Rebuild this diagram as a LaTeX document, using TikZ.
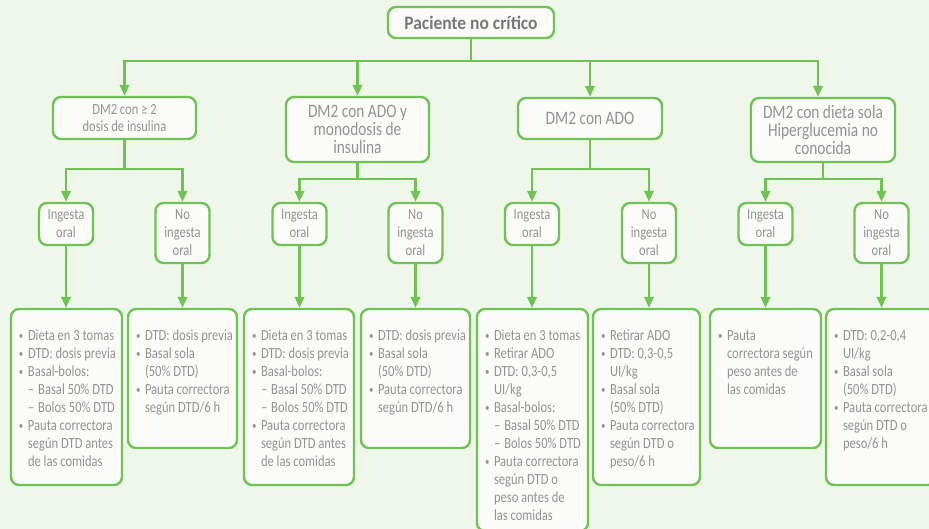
\documentclass[tikz,border=0pt]{standalone}
\usepackage{fontspec}
\setmainfont[FakeStretch=0.81]{Carlito}
\newfontfamily\headfont[FakeStretch=0.92]{Carlito}
\usetikzlibrary{arrows.meta}

\definecolor{bgtint}{HTML}{EEF7EA}
\definecolor{grn}{HTML}{72C157}
\definecolor{ink}{HTML}{939393}
\definecolor{headink}{HTML}{777777}
\definecolor{boxfill}{HTML}{FBFCFA}

% list helpers: bullet, continuation indent, dashed sub-item, first-line strut
\newcommand{\bu}{\makebox[10pt][l]{\hspace{1pt}\raisebox{0.8pt}{\fontsize{11}{11}\selectfont\textbullet}}}
\newcommand{\ct}{\hspace*{10pt}}
\newcommand{\subitm}{\hspace*{10pt}\textendash\hspace{4pt}}
\newcommand{\firstln}{\rule{0pt}{12pt}}

\tikzset{
  conn/.style={draw=grn, line width=2.2pt},
  arr/.style={conn, -{Triangle[length=11pt,width=9.5pt]}},
  box/.style={draw=grn, line width=2.4pt, fill=boxfill, rounded corners=8pt,
              inner sep=0pt, text=ink, align=center},
  head/.style={box, text=headink, font=\headfont\bfseries\fontsize{19}{22}\selectfont},
  cat/.style={box, font=\fontsize{19}{18}\selectfont},
  way/.style={box, minimum width=54pt, font=\fontsize{15.5}{18}\selectfont},
  list/.style={inner sep=0pt, align=left, text=ink, anchor=north west,
               font=\fontsize{15.5}{18}\selectfont},
}

\begin{document}
\begin{tikzpicture}[x=1pt, y=-1pt]
\useasboundingbox (0,0) rectangle (929,529);
\fill[bgtint] (0,0) rectangle (929,529);
\clip (0,0) rectangle (929,529);

% root
\node[head, minimum width=166pt, minimum height=31pt] (pt) at (471,22.5) {Paciente no crítico};

% patient groups
\node[cat, minimum width=143pt, minimum height=42pt, font=\fontsize{15.5}{17}\selectfont]
  (g1) at (124.5,118) {DM2 con ≥ 2\\dosis de insulina};
\node[cat, minimum width=143pt, minimum height=65pt] (g2) at (357.5,129.5) {DM2 con ADO y\\monodosis de\\insulina};
\node[cat, minimum width=144pt, minimum height=41pt] (g3) at (590,118.5) {DM2 con ADO};
\node[cat, minimum width=144pt, minimum height=64pt] (g4) at (823,130) {DM2 con dieta sola\\Hiperglucemia no\\conocida};

% oral intake yes / no
\node[way, minimum height=42pt] (i1) at (66,224) {Ingesta\\oral};
\node[way, minimum height=60pt] (n1) at (182.5,233) {No\\ingesta\\oral};
\node[way, minimum height=42pt] (i2) at (299.5,224) {Ingesta\\oral};
\node[way, minimum height=60pt] (n2) at (415.5,233) {No\\ingesta\\oral};
\node[way, minimum height=42pt] (i3) at (532,224) {Ingesta\\oral};
\node[way, minimum height=60pt] (n3) at (649,233) {No\\ingesta\\oral};
\node[way, minimum height=42pt] (i4) at (765.5,224) {Ingesta\\oral};
\node[way, minimum height=60pt] (n4) at (881.5,233) {No\\ingesta\\oral};

% treatment plans
\node[box, minimum width=111pt, minimum height=176pt] (p1) at (66.5,397) {};
\node[box, minimum width=109pt, minimum height=139pt] (q1) at (182.5,378.5) {};
\node[box, minimum width=110pt, minimum height=176pt] (p2) at (299,397) {};
\node[box, minimum width=109pt, minimum height=139pt] (q2) at (415.5,378.5) {};
\node[box, minimum width=111pt, minimum height=222pt] (p3) at (532.5,420) {};
\node[box, minimum width=107pt, minimum height=176pt] (q3) at (646.5,397) {};
\node[box, minimum width=111pt, minimum height=139pt] (p4) at (765.5,378.5) {};
\node[box, minimum width=110pt, minimum height=176pt] (q4) at (881,397) {};

\node[list] (tp1) at ([xshift=8pt,yshift=-20pt]p1.north west) {%
\firstln\bu Dieta en 3 tomas\\
\bu DTD: dosis previa\\
\bu Basal-bolos:\\
\subitm Basal 50\% DTD\\
\subitm Bolos 50\% DTD\\
\bu Pauta correctora\\
\ct según DTD antes\\
\ct de las comidas};

\node[list] (tq1) at ([xshift=8pt,yshift=-20pt]q1.north west) {%
\firstln\bu DTD: dosis previa\\
\bu Basal sola\\
\ct (50\% DTD)\\
\bu Pauta correctora\\
\ct según DTD/6 h};

\node[list] (tp2) at ([xshift=8pt,yshift=-20pt]p2.north west) {%
\firstln\bu Dieta en 3 tomas\\
\bu DTD: dosis previa\\
\bu Basal-bolos:\\
\subitm Basal 50\% DTD\\
\subitm Bolos 50\% DTD\\
\bu Pauta correctora\\
\ct según DTD antes\\
\ct de las comidas};

\node[list] (tq2) at ([xshift=8pt,yshift=-20pt]q2.north west) {%
\firstln\bu DTD: dosis previa\\
\bu Basal sola\\
\ct (50\% DTD)\\
\bu Pauta correctora\\
\ct según DTD/6 h};

\node[list] (tp3) at ([xshift=8pt,yshift=-20pt]p3.north west) {%
\firstln\bu Dieta en 3 tomas\\
\bu Retirar ADO\\
\bu DTD: 0,3-0,5\\
\ct UI/kg\\
\bu Basal-bolos:\\
\subitm Basal 50\% DTD\\
\subitm Bolos 50\% DTD\\
\bu Pauta correctora\\
\ct según DTD o\\
\ct peso antes de\\
\ct las comidas};

\node[list] (tq3) at ([xshift=8pt,yshift=-20pt]q3.north west) {%
\firstln\bu Retirar ADO\\
\bu DTD: 0,3-0,5\\
\ct UI/kg\\
\bu Basal sola\\
\ct (50\% DTD)\\
\bu Pauta correctora\\
\ct según DTD o\\
\ct peso/6 h};

\node[list] (tp4) at ([xshift=8pt,yshift=-20pt]p4.north west) {%
\firstln\bu Pauta\\
\ct correctora según\\
\ct peso antes de\\
\ct las comidas};

\node[list] (tq4) at ([xshift=8pt,yshift=-20pt]q4.north west) {%
\firstln\bu DTD: 0,2-0,4\\
\ct UI/kg\\
\bu Basal sola\\
\ct (50\% DTD)\\
\bu Pauta correctora\\
\ct según DTD o\\
\ct peso/6 h};

% root to groups
\coordinate (top) at (471,61);
\coordinate (g4in) at ([xshift=-5pt]g4.north);
\draw[conn] (pt.south) -- (top);
\draw[arr] (top) -| (g1.north);
\draw[arr] (top) -| (g2.north);
\draw[arr] (top) -| (g3.north);
\draw[arr] (top) -| (g4in);

% groups to intake
\draw[conn] (g1.south) -- ++(0,29) coordinate (s1);
\draw[conn] (g2.south) -- ++(0,16) coordinate (s2);
\draw[conn] (g3.south) -- ++(0,29) coordinate (s3);
\draw[conn] (g4.south) -- ++(0,16) coordinate (s4);
\foreach \k in {1,2,3,4}{
  \draw[arr] (s\k) -| (i\k.north);
  \draw[arr] (s\k) -| (n\k.north);
}

% intake to plans
\foreach \k in {1,2,3,4}{
  \draw[arr] (i\k.south) -- (i\k.south |- p\k.north);
  \draw[arr] (n\k.south) -- (n\k.south |- q\k.north);
}
\end{tikzpicture}
\end{document}
